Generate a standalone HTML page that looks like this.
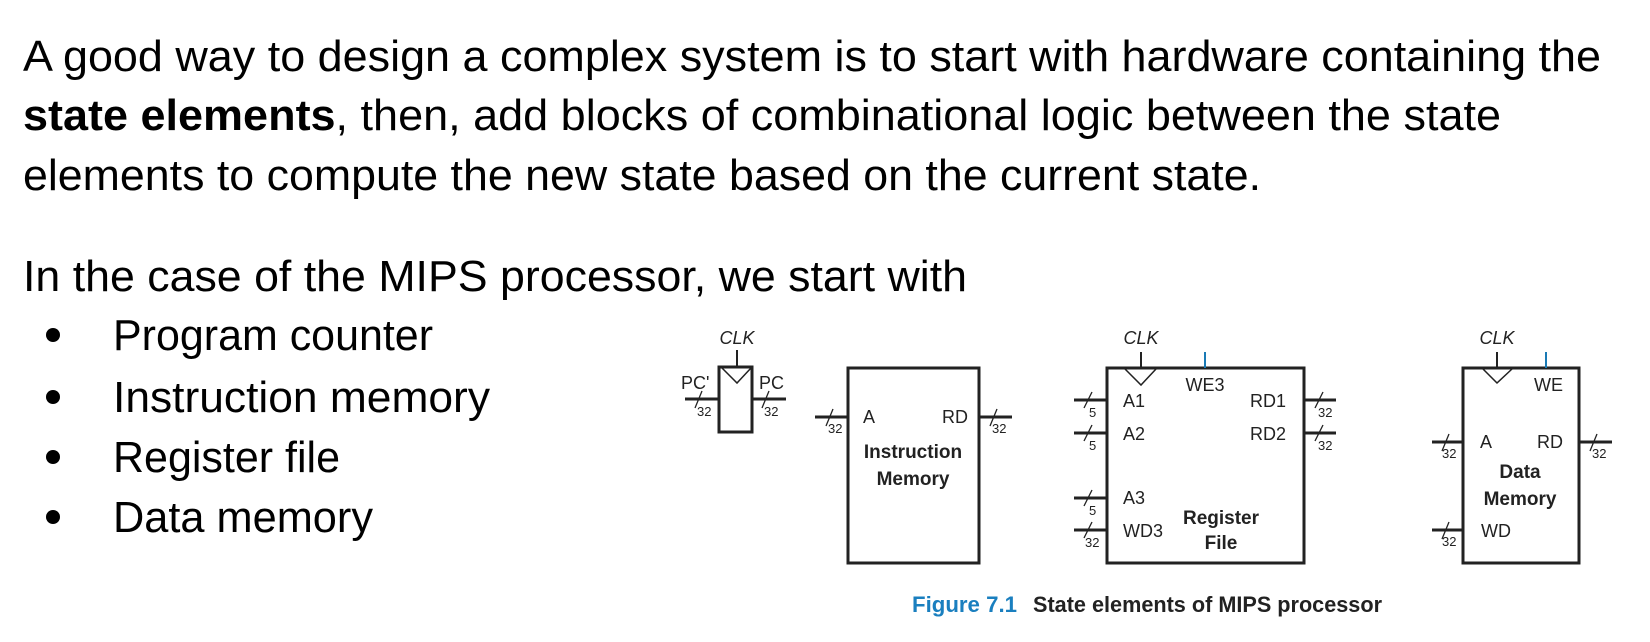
<!DOCTYPE html>
<html><head><meta charset="utf-8"><style>
html,body{margin:0;padding:0;background:#fff;}
svg{display:block;}
</style></head><body>
<svg width="1650" height="642" viewBox="0 0 1650 642" xmlns="http://www.w3.org/2000/svg" font-family="Liberation Sans, Arial, sans-serif">
<g font-size="44" fill="#000">
<text x="23" y="71" textLength="1578" lengthAdjust="spacingAndGlyphs">A good way to design a complex system is to start with hardware containing the</text>
<text x="23" y="130" textLength="1478" lengthAdjust="spacingAndGlyphs"><tspan font-weight="bold">state elements</tspan>, then, add blocks of combinational logic between the state</text>
<text x="23" y="190" textLength="1238" lengthAdjust="spacingAndGlyphs">elements to compute the new state based on the current state.</text>
<text x="23" y="291" textLength="944" lengthAdjust="spacingAndGlyphs">In the case of the MIPS processor, we start with</text>
<circle cx="53" cy="335" r="7"/><text x="113" y="350" textLength="320" lengthAdjust="spacingAndGlyphs">Program counter</text>
<circle cx="53" cy="397" r="7"/><text x="113" y="412" textLength="377" lengthAdjust="spacingAndGlyphs">Instruction memory</text>
<circle cx="53" cy="457" r="7"/><text x="113" y="472" textLength="227" lengthAdjust="spacingAndGlyphs">Register file</text>
<circle cx="53" cy="517" r="7"/><text x="113" y="532" textLength="260" lengthAdjust="spacingAndGlyphs">Data memory</text>
</g>

<g stroke="#222" fill="none" stroke-width="3">
<!-- flip flop -->
<rect x="719" y="367" width="33" height="65"/>
<line x1="685" y1="399" x2="719" y2="399"/>
<line x1="752" y1="399" x2="786" y2="399"/>
<line x1="737" y1="350" x2="737" y2="367" stroke-width="2"/>
<polyline points="722,368 737,383 751,368" stroke-width="1.5"/>
<!-- instruction memory -->
<rect x="848" y="368" width="131" height="195"/>
<line x1="815" y1="417" x2="848" y2="417"/>
<line x1="979" y1="417" x2="1012" y2="417"/>
<!-- register file -->
<rect x="1107" y="368" width="197" height="195"/>
<line x1="1141" y1="352" x2="1141" y2="368" stroke-width="2"/>
<polyline points="1125,369 1141,385 1156,369" stroke-width="1.5"/>
<line x1="1074" y1="400" x2="1107" y2="400"/>
<line x1="1074" y1="433" x2="1107" y2="433"/>
<line x1="1074" y1="498" x2="1107" y2="498"/>
<line x1="1074" y1="530" x2="1107" y2="530"/>
<line x1="1304" y1="400" x2="1336" y2="400"/>
<line x1="1304" y1="433" x2="1336" y2="433"/>
<!-- data memory -->
<rect x="1463" y="368" width="116" height="195"/>
<line x1="1497" y1="352" x2="1497" y2="368" stroke-width="2"/>
<polyline points="1483,369 1497,383 1512,369" stroke-width="1.5"/>
<line x1="1432" y1="442" x2="1463" y2="442"/>
<line x1="1432" y1="530" x2="1463" y2="530"/>
<line x1="1579" y1="442" x2="1612" y2="442"/>
</g>
<g stroke="#1a7ab5" stroke-width="2">
<line x1="1205" y1="352" x2="1205" y2="368"/>
<line x1="1546" y1="352" x2="1546" y2="368"/>
</g>
<!-- slashes -->
<g stroke="#222" stroke-width="1.3">
<line x1="695" y1="408" x2="702" y2="391"/>
<line x1="762" y1="408" x2="769" y2="391"/>
<line x1="826" y1="426" x2="833" y2="409"/>
<line x1="990" y1="426" x2="997" y2="409"/>
<line x1="1084" y1="408" x2="1092" y2="392"/>
<line x1="1084" y1="441" x2="1092" y2="425"/>
<line x1="1084" y1="506" x2="1092" y2="490"/>
<line x1="1084" y1="538" x2="1092" y2="522"/>
<line x1="1315" y1="408" x2="1323" y2="392"/>
<line x1="1315" y1="441" x2="1323" y2="425"/>
<line x1="1442" y1="451" x2="1449" y2="434"/>
<line x1="1442" y1="539" x2="1449" y2="522"/>
<line x1="1590" y1="451" x2="1597" y2="434"/>
</g>
<g font-size="13" fill="#222">
<text x="697" y="416">32</text><text x="764" y="416">32</text>
<text x="828" y="433">32</text><text x="992" y="433">32</text>
<text x="1089" y="417">5</text><text x="1089" y="450">5</text><text x="1089" y="515">5</text><text x="1085" y="547">32</text>
<text x="1318" y="417">32</text><text x="1318" y="450">32</text>
<text x="1442" y="458">32</text><text x="1442" y="546">32</text><text x="1592" y="458">32</text>
</g>
<g font-size="18" fill="#222">
<text x="737" y="344" text-anchor="middle" font-style="italic">CLK</text>
<text x="1141" y="344" text-anchor="middle" font-style="italic">CLK</text>
<text x="1497" y="344" text-anchor="middle" font-style="italic">CLK</text>
<text x="681" y="389">PC'</text>
<text x="759" y="389">PC</text>
<text x="863" y="423">A</text>
<text x="968" y="423" text-anchor="end">RD</text>
<text x="1205" y="391" text-anchor="middle">WE3</text>
<text x="1123" y="407">A1</text>
<text x="1123" y="440">A2</text>
<text x="1123" y="504">A3</text>
<text x="1123" y="537">WD3</text>
<text x="1286" y="407" text-anchor="end">RD1</text>
<text x="1286" y="440" text-anchor="end">RD2</text>
<text x="1563" y="391" text-anchor="end">WE</text>
<text x="1480" y="448">A</text>
<text x="1563" y="448" text-anchor="end">RD</text>
<text x="1481" y="537">WD</text>
</g>
<g font-size="19" font-weight="bold" fill="#222" text-anchor="middle">
<text x="913" y="458">Instruction</text>
<text x="913" y="485">Memory</text>
<text x="1221" y="524">Register</text>
<text x="1221" y="549">File</text>
<text x="1520" y="478">Data</text>
<text x="1520" y="505">Memory</text>
</g>
<g font-size="22" font-weight="bold" font-family="Liberation Sans Narrow, Liberation Sans, Arial, sans-serif">
<text x="912" y="612" fill="#1a7fbf" textLength="105" lengthAdjust="spacingAndGlyphs">Figure 7.1</text>
<text x="1033" y="612" fill="#222" textLength="349" lengthAdjust="spacingAndGlyphs">State elements of MIPS processor</text>
</g>
</svg>
</body></html>
